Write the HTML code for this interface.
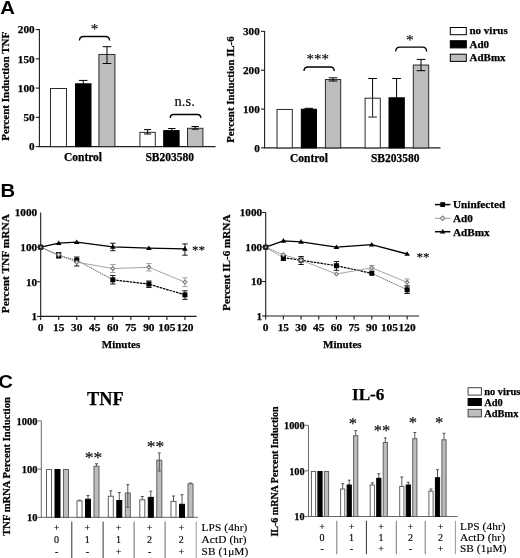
<!DOCTYPE html>
<html><head><meta charset="utf-8"><title>Figure</title>
<style>
html,body{margin:0;padding:0;background:#fff;}
svg{display:block;}
</style></head><body>
<svg width="520" height="558" viewBox="0 0 520 558">
<rect x="0" y="0" width="520" height="558" fill="#fff"/>
<text transform="translate(0.3,13.9) scale(1.08,1)" font-family='"Liberation Sans", sans-serif' font-size="18.8" font-weight="bold" fill="#000">A</text>
<text transform="translate(0.4,197.2) scale(1.08,1)" font-family='"Liberation Sans", sans-serif' font-size="18.8" font-weight="bold" fill="#000">B</text>
<text transform="translate(-1.8,387.7) scale(1.08,1)" font-family='"Liberation Sans", sans-serif' font-size="18.8" font-weight="bold" fill="#000">C</text>
<line x1="39.4" y1="29" x2="39.4" y2="146.6" stroke="#1c1c1c" stroke-width="1.1" />
<line x1="38.8" y1="146.6" x2="215.5" y2="146.6" stroke="#1c1c1c" stroke-width="1.1" />
<line x1="35.8" y1="146.6" x2="39.4" y2="146.6" stroke="#1c1c1c" stroke-width="1.1" />
<text x="34.6" y="150.4" font-family='"Liberation Serif", serif' font-size="11.2" font-weight="bold" text-anchor="end" fill="#000" stroke="#000" stroke-width="0.25" >0</text>
<line x1="35.8" y1="117.35" x2="39.4" y2="117.35" stroke="#1c1c1c" stroke-width="1.1" />
<text x="34.6" y="121.14999999999999" font-family='"Liberation Serif", serif' font-size="11.2" font-weight="bold" text-anchor="end" fill="#000" stroke="#000" stroke-width="0.25" >50</text>
<line x1="35.8" y1="88.1" x2="39.4" y2="88.1" stroke="#1c1c1c" stroke-width="1.1" />
<text x="34.6" y="91.89999999999999" font-family='"Liberation Serif", serif' font-size="11.2" font-weight="bold" text-anchor="end" fill="#000" stroke="#000" stroke-width="0.25" >100</text>
<line x1="35.8" y1="58.849999999999994" x2="39.4" y2="58.849999999999994" stroke="#1c1c1c" stroke-width="1.1" />
<text x="34.6" y="62.64999999999999" font-family='"Liberation Serif", serif' font-size="11.2" font-weight="bold" text-anchor="end" fill="#000" stroke="#000" stroke-width="0.25" >150</text>
<line x1="35.8" y1="29.599999999999994" x2="39.4" y2="29.599999999999994" stroke="#1c1c1c" stroke-width="1.1" />
<text x="34.6" y="33.39999999999999" font-family='"Liberation Serif", serif' font-size="11.2" font-weight="bold" text-anchor="end" fill="#000" stroke="#000" stroke-width="0.25" >200</text>
<text transform="translate(8.5,86.3) rotate(-90)" font-family='"Liberation Serif", serif' font-size="11.0" font-weight="bold" text-anchor="middle" fill="#000" stroke="#000" stroke-width="0.25">Percent Induction TNF</text>
<line x1="83.2" y1="80.41" x2="83.2" y2="86.93" stroke="#000" stroke-width="1" />
<line x1="78.9" y1="80.41" x2="87.5" y2="80.41" stroke="#000" stroke-width="1" />
<line x1="78.9" y1="86.93" x2="87.5" y2="86.93" stroke="#000" stroke-width="1" />
<rect x="50.50" y="88.50" width="16.00" height="58.10" fill="#fff" stroke="#2a2a2a" stroke-width="1"/>
<rect x="75.50" y="83.82" width="15.50" height="62.78" fill="#000" stroke="#000" stroke-width="1"/>
<rect x="98.90" y="54.45" width="16.00" height="92.15" fill="#bdbdbd" stroke="#2a2a2a" stroke-width="1"/>
<line x1="107" y1="46.7" x2="107" y2="63.5" stroke="#000" stroke-width="1" />
<line x1="102.7" y1="46.7" x2="111.3" y2="46.7" stroke="#000" stroke-width="1" />
<line x1="102.7" y1="63.5" x2="111.3" y2="63.5" stroke="#000" stroke-width="1" />
<rect x="139.90" y="132.38" width="15.40" height="14.22" fill="#fff" stroke="#2a2a2a" stroke-width="1"/>
<rect x="163.70" y="130.62" width="15.40" height="15.98" fill="#000" stroke="#000" stroke-width="1"/>
<rect x="187.50" y="128.28" width="15.40" height="18.32" fill="#bdbdbd" stroke="#2a2a2a" stroke-width="1"/>
<line x1="147.6" y1="129.6" x2="147.6" y2="134" stroke="#000" stroke-width="1" />
<line x1="144.0" y1="129.6" x2="151.2" y2="129.6" stroke="#000" stroke-width="1" />
<line x1="144.0" y1="134" x2="151.2" y2="134" stroke="#000" stroke-width="1" />
<line x1="171.8" y1="128.5" x2="171.8" y2="131" stroke="#000" stroke-width="1" />
<line x1="168.10000000000002" y1="128.5" x2="175.5" y2="128.5" stroke="#000" stroke-width="1" />
<line x1="195.2" y1="126.5" x2="195.2" y2="129.2" stroke="#000" stroke-width="1" />
<line x1="191.6" y1="126.5" x2="198.79999999999998" y2="126.5" stroke="#000" stroke-width="1" />
<line x1="191.6" y1="129.2" x2="198.79999999999998" y2="129.2" stroke="#000" stroke-width="1" />
<text x="83" y="161" font-family='"Liberation Serif", serif' font-size="11.5" font-weight="bold" text-anchor="middle" fill="#000" stroke="#000" stroke-width="0.25" >Control</text>
<text x="169.7" y="161" font-family='"Liberation Serif", serif' font-size="11.5" font-weight="bold" text-anchor="middle" fill="#000" stroke="#000" stroke-width="0.25" >SB203580</text>
<path d="M79.5,40.5 Q79.5,36.5 83.5,36.5 L105.5,36.5 Q109.5,36.5 109.5,40.5" fill="none" stroke="#000" stroke-width="1.3"/>
<text x="94.5" y="34.2" font-family='"Liberation Serif", serif' font-size="15.5" font-weight="normal" text-anchor="middle" fill="#000" stroke="#000" stroke-width="0.15" >*</text>
<path d="M170.2,118 Q170.2,114.5 173.7,114.5 L197.3,114.5 Q200.8,114.5 200.8,118" fill="none" stroke="#000" stroke-width="1.3"/>
<text x="184.7" y="106.3" font-family='"Liberation Serif", serif' font-size="14.5" font-weight="normal" text-anchor="middle" fill="#000" stroke="#000" stroke-width="0.15" >n.s.</text>
<line x1="264.6" y1="31" x2="264.6" y2="147.9" stroke="#1c1c1c" stroke-width="1.1" />
<line x1="264.0" y1="147.9" x2="440.5" y2="147.9" stroke="#1c1c1c" stroke-width="1.1" />
<line x1="261.0" y1="147.9" x2="264.6" y2="147.9" stroke="#1c1c1c" stroke-width="1.1" />
<text x="259.8" y="151.70000000000002" font-family='"Liberation Serif", serif' font-size="11.2" font-weight="bold" text-anchor="end" fill="#000" stroke="#000" stroke-width="0.25" >0</text>
<line x1="261.0" y1="109.05000000000001" x2="264.6" y2="109.05000000000001" stroke="#1c1c1c" stroke-width="1.1" />
<text x="259.8" y="112.85000000000001" font-family='"Liberation Serif", serif' font-size="11.2" font-weight="bold" text-anchor="end" fill="#000" stroke="#000" stroke-width="0.25" >100</text>
<line x1="261.0" y1="70.2" x2="264.6" y2="70.2" stroke="#1c1c1c" stroke-width="1.1" />
<text x="259.8" y="74.0" font-family='"Liberation Serif", serif' font-size="11.2" font-weight="bold" text-anchor="end" fill="#000" stroke="#000" stroke-width="0.25" >200</text>
<line x1="261.0" y1="31.35000000000001" x2="264.6" y2="31.35000000000001" stroke="#1c1c1c" stroke-width="1.1" />
<text x="259.8" y="35.150000000000006" font-family='"Liberation Serif", serif' font-size="11.2" font-weight="bold" text-anchor="end" fill="#000" stroke="#000" stroke-width="0.25" >300</text>
<text transform="translate(233.7,89.6) rotate(-90)" font-family='"Liberation Serif", serif' font-size="10.85" font-weight="bold" text-anchor="middle" fill="#000" stroke="#000" stroke-width="0.25">Percent Induction IL-6</text>
<rect x="277.00" y="109.45" width="15.30" height="38.45" fill="#fff" stroke="#2a2a2a" stroke-width="1"/>
<line x1="308.8" y1="108.3" x2="308.8" y2="109.3" stroke="#000" stroke-width="1" />
<line x1="304.5" y1="108.3" x2="313.1" y2="108.3" stroke="#000" stroke-width="1" />
<line x1="304.5" y1="109.3" x2="313.1" y2="109.3" stroke="#000" stroke-width="1" />
<rect x="301.30" y="109.26" width="15.20" height="38.64" fill="#000" stroke="#000" stroke-width="1"/>
<rect x="325.40" y="79.54" width="15.30" height="68.36" fill="#bdbdbd" stroke="#2a2a2a" stroke-width="1"/>
<line x1="333" y1="77.8" x2="333" y2="81" stroke="#000" stroke-width="1" />
<line x1="328.7" y1="77.8" x2="337.3" y2="77.8" stroke="#000" stroke-width="1" />
<line x1="328.7" y1="81" x2="337.3" y2="81" stroke="#000" stroke-width="1" />
<line x1="372.6" y1="78.5" x2="372.6" y2="117.1" stroke="#000" stroke-width="1" />
<line x1="368.3" y1="78.5" x2="376.90000000000003" y2="78.5" stroke="#000" stroke-width="1" />
<line x1="368.3" y1="117.1" x2="376.90000000000003" y2="117.1" stroke="#000" stroke-width="1" />
<line x1="396.6" y1="78.5" x2="396.6" y2="100" stroke="#000" stroke-width="1" />
<line x1="392.3" y1="78.5" x2="400.90000000000003" y2="78.5" stroke="#000" stroke-width="1" />
<rect x="365.10" y="98.18" width="15.20" height="49.72" fill="#fff" stroke="#2a2a2a" stroke-width="1"/>
<line x1="372.6" y1="98" x2="372.6" y2="117.1" stroke="#1c1c1c" stroke-width="1" />
<line x1="368.3" y1="117.1" x2="376.9" y2="117.1" stroke="#1c1c1c" stroke-width="1" />
<rect x="389.00" y="97.80" width="15.30" height="50.10" fill="#000" stroke="#000" stroke-width="1"/>
<rect x="413.30" y="65.04" width="15.40" height="82.86" fill="#bdbdbd" stroke="#2a2a2a" stroke-width="1"/>
<line x1="421" y1="59.4" x2="421" y2="70.7" stroke="#000" stroke-width="1" />
<line x1="416.7" y1="59.4" x2="425.3" y2="59.4" stroke="#000" stroke-width="1" />
<line x1="416.7" y1="70.7" x2="425.3" y2="70.7" stroke="#000" stroke-width="1" />
<text x="309" y="162.3" font-family='"Liberation Serif", serif' font-size="11.5" font-weight="bold" text-anchor="middle" fill="#000" stroke="#000" stroke-width="0.25" >Control</text>
<text x="395.2" y="162.3" font-family='"Liberation Serif", serif' font-size="11.5" font-weight="bold" text-anchor="middle" fill="#000" stroke="#000" stroke-width="0.25" >SB203580</text>
<path d="M304,71 Q304,67 308,67 L330.2,67 Q334.2,67 334.2,71" fill="none" stroke="#000" stroke-width="1.3"/>
<text x="317.8" y="64.2" font-family='"Liberation Serif", serif' font-size="15" font-weight="normal" text-anchor="middle" fill="#000" stroke="#000" stroke-width="0.15" >***</text>
<path d="M395.7,51.4 Q395.7,47.2 399.9,47.2 L422.40000000000003,47.2 Q426.6,47.2 426.6,51.4" fill="none" stroke="#000" stroke-width="1.3"/>
<text x="409.8" y="44.9" font-family='"Liberation Serif", serif' font-size="15.5" font-weight="normal" text-anchor="middle" fill="#000" stroke="#000" stroke-width="0.15" >*</text>
<rect x="450.30" y="27.50" width="16.00" height="7.20" fill="#fff" stroke="#000" stroke-width="1"/>
<rect x="450.30" y="40.70" width="16.00" height="7.20" fill="#000" stroke="#000" stroke-width="1"/>
<rect x="450.30" y="54.20" width="16.00" height="7.20" fill="#bdbdbd" stroke="#000" stroke-width="1"/>
<text x="469.5" y="34.2" font-family='"Liberation Serif", serif' font-size="11" font-weight="bold" text-anchor="start" fill="#000" stroke="#000" stroke-width="0.25" >no virus</text>
<text x="469.5" y="47.7" font-family='"Liberation Serif", serif' font-size="11" font-weight="bold" text-anchor="start" fill="#000" stroke="#000" stroke-width="0.25" >Ad0</text>
<text x="469.5" y="61.4" font-family='"Liberation Serif", serif' font-size="11" font-weight="bold" text-anchor="start" fill="#000" stroke="#000" stroke-width="0.25" >AdBmx</text>
<line x1="40.7" y1="212.5" x2="40.7" y2="316.4" stroke="#1c1c1c" stroke-width="1.1" />
<line x1="40.1" y1="316.4" x2="196.6" y2="316.4" stroke="#1c1c1c" stroke-width="1.1" />
<line x1="37.1" y1="316.4" x2="40.7" y2="316.4" stroke="#1c1c1c" stroke-width="1.1" />
<text x="37.1" y="320.29999999999995" font-family='"Liberation Serif", serif' font-size="11.2" font-weight="bold" text-anchor="end" fill="#000" stroke="#000" stroke-width="0.25" >1</text>
<line x1="37.1" y1="281.76666666666665" x2="40.7" y2="281.76666666666665" stroke="#1c1c1c" stroke-width="1.1" />
<text x="37.1" y="285.66666666666663" font-family='"Liberation Serif", serif' font-size="11.2" font-weight="bold" text-anchor="end" fill="#000" stroke="#000" stroke-width="0.25" >10</text>
<line x1="37.1" y1="247.13333333333333" x2="40.7" y2="247.13333333333333" stroke="#1c1c1c" stroke-width="1.1" />
<text x="37.1" y="251.03333333333333" font-family='"Liberation Serif", serif' font-size="11.2" font-weight="bold" text-anchor="end" fill="#000" stroke="#000" stroke-width="0.25" >100</text>
<text x="37.1" y="216.4" font-family='"Liberation Serif", serif' font-size="11.2" font-weight="bold" text-anchor="end" fill="#000" stroke="#000" stroke-width="0.25" >1000</text>
<line x1="40.7" y1="316.4" x2="40.7" y2="320.0" stroke="#1c1c1c" stroke-width="1.1" />
<text x="40.7" y="331.0" font-family='"Liberation Serif", serif' font-size="11.4" font-weight="bold" text-anchor="middle" fill="#000" stroke="#000" stroke-width="0.25" >0</text>
<line x1="58.730000000000004" y1="316.4" x2="58.730000000000004" y2="320.0" stroke="#1c1c1c" stroke-width="1.1" />
<text x="58.730000000000004" y="331.0" font-family='"Liberation Serif", serif' font-size="11.4" font-weight="bold" text-anchor="middle" fill="#000" stroke="#000" stroke-width="0.25" >15</text>
<line x1="76.76" y1="316.4" x2="76.76" y2="320.0" stroke="#1c1c1c" stroke-width="1.1" />
<text x="76.76" y="331.0" font-family='"Liberation Serif", serif' font-size="11.4" font-weight="bold" text-anchor="middle" fill="#000" stroke="#000" stroke-width="0.25" >30</text>
<line x1="94.79" y1="316.4" x2="94.79" y2="320.0" stroke="#1c1c1c" stroke-width="1.1" />
<text x="94.79" y="331.0" font-family='"Liberation Serif", serif' font-size="11.4" font-weight="bold" text-anchor="middle" fill="#000" stroke="#000" stroke-width="0.25" >45</text>
<line x1="112.82000000000001" y1="316.4" x2="112.82000000000001" y2="320.0" stroke="#1c1c1c" stroke-width="1.1" />
<text x="112.82000000000001" y="331.0" font-family='"Liberation Serif", serif' font-size="11.4" font-weight="bold" text-anchor="middle" fill="#000" stroke="#000" stroke-width="0.25" >60</text>
<line x1="130.85000000000002" y1="316.4" x2="130.85000000000002" y2="320.0" stroke="#1c1c1c" stroke-width="1.1" />
<text x="130.85000000000002" y="331.0" font-family='"Liberation Serif", serif' font-size="11.4" font-weight="bold" text-anchor="middle" fill="#000" stroke="#000" stroke-width="0.25" >75</text>
<line x1="148.88" y1="316.4" x2="148.88" y2="320.0" stroke="#1c1c1c" stroke-width="1.1" />
<text x="148.88" y="331.0" font-family='"Liberation Serif", serif' font-size="11.4" font-weight="bold" text-anchor="middle" fill="#000" stroke="#000" stroke-width="0.25" >90</text>
<line x1="166.91000000000003" y1="316.4" x2="166.91000000000003" y2="320.0" stroke="#1c1c1c" stroke-width="1.1" />
<text x="166.91000000000003" y="331.0" font-family='"Liberation Serif", serif' font-size="11.4" font-weight="bold" text-anchor="middle" fill="#000" stroke="#000" stroke-width="0.25" >105</text>
<line x1="184.94" y1="316.4" x2="184.94" y2="320.0" stroke="#1c1c1c" stroke-width="1.1" />
<text x="184.94" y="331.0" font-family='"Liberation Serif", serif' font-size="11.4" font-weight="bold" text-anchor="middle" fill="#000" stroke="#000" stroke-width="0.25" >120</text>
<text x="121" y="348.3" font-family='"Liberation Serif", serif' font-size="11" font-weight="bold" text-anchor="middle" fill="#000" stroke="#000" stroke-width="0.25" >Minutes</text>
<text transform="translate(9.3,263.7) rotate(-90)" font-family='"Liberation Serif", serif' font-size="11.4" font-weight="bold" text-anchor="middle" fill="#000" stroke="#000" stroke-width="0.25">Percent TNF mRNA</text>
<line x1="58.730000000000004" y1="252.5" x2="58.730000000000004" y2="258" stroke="#000" stroke-width="0.9" />
<line x1="56.03" y1="252.5" x2="61.43000000000001" y2="252.5" stroke="#000" stroke-width="0.9" />
<line x1="56.03" y1="258" x2="61.43000000000001" y2="258" stroke="#000" stroke-width="0.9" />
<line x1="76.76" y1="257" x2="76.76" y2="266" stroke="#000" stroke-width="0.9" />
<line x1="74.06" y1="257" x2="79.46000000000001" y2="257" stroke="#000" stroke-width="0.9" />
<line x1="74.06" y1="266" x2="79.46000000000001" y2="266" stroke="#000" stroke-width="0.9" />
<line x1="112.82000000000001" y1="243.2" x2="112.82000000000001" y2="250.7" stroke="#000" stroke-width="0.9" />
<line x1="110.12" y1="243.2" x2="115.52000000000001" y2="243.2" stroke="#000" stroke-width="0.9" />
<line x1="110.12" y1="250.7" x2="115.52000000000001" y2="250.7" stroke="#000" stroke-width="0.9" />
<line x1="112.82000000000001" y1="264.5" x2="112.82000000000001" y2="272.5" stroke="#999" stroke-width="0.9" />
<line x1="110.12" y1="264.5" x2="115.52000000000001" y2="264.5" stroke="#999" stroke-width="0.9" />
<line x1="110.12" y1="272.5" x2="115.52000000000001" y2="272.5" stroke="#999" stroke-width="0.9" />
<line x1="112.82000000000001" y1="275.5" x2="112.82000000000001" y2="284" stroke="#000" stroke-width="0.9" />
<line x1="110.12" y1="275.5" x2="115.52000000000001" y2="275.5" stroke="#000" stroke-width="0.9" />
<line x1="110.12" y1="284" x2="115.52000000000001" y2="284" stroke="#000" stroke-width="0.9" />
<line x1="148.88" y1="263.5" x2="148.88" y2="271" stroke="#999" stroke-width="0.9" />
<line x1="146.18" y1="263.5" x2="151.57999999999998" y2="263.5" stroke="#999" stroke-width="0.9" />
<line x1="146.18" y1="271" x2="151.57999999999998" y2="271" stroke="#999" stroke-width="0.9" />
<line x1="148.88" y1="281" x2="148.88" y2="287.5" stroke="#000" stroke-width="0.9" />
<line x1="146.18" y1="281" x2="151.57999999999998" y2="281" stroke="#000" stroke-width="0.9" />
<line x1="146.18" y1="287.5" x2="151.57999999999998" y2="287.5" stroke="#000" stroke-width="0.9" />
<line x1="184.94" y1="243.9" x2="184.94" y2="255.2" stroke="#000" stroke-width="0.9" />
<line x1="182.24" y1="243.9" x2="187.64" y2="243.9" stroke="#000" stroke-width="0.9" />
<line x1="182.24" y1="255.2" x2="187.64" y2="255.2" stroke="#000" stroke-width="0.9" />
<line x1="184.94" y1="277.8" x2="184.94" y2="286.6" stroke="#999" stroke-width="0.9" />
<line x1="182.24" y1="277.8" x2="187.64" y2="277.8" stroke="#999" stroke-width="0.9" />
<line x1="182.24" y1="286.6" x2="187.64" y2="286.6" stroke="#999" stroke-width="0.9" />
<line x1="184.94" y1="290.8" x2="184.94" y2="299.4" stroke="#000" stroke-width="0.9" />
<line x1="182.24" y1="290.8" x2="187.64" y2="290.8" stroke="#000" stroke-width="0.9" />
<line x1="182.24" y1="299.4" x2="187.64" y2="299.4" stroke="#000" stroke-width="0.9" />
<polyline points="40.7,247.2 58.7,255.7 76.8,260.2 112.8,279.8" fill="none" stroke="#222" stroke-width="0.85" stroke-dasharray="1.2,0.9"/>
<polyline points="112.8,279.8 148.9,284.1 184.9,294.9" fill="none" stroke="#000" stroke-width="1.25" stroke-dasharray="2.6,0.8"/>
<polyline points="40.7,247.2 58.7,254.7 76.8,262.2 112.8,268.5 148.9,267.3 184.9,282.1" fill="none" stroke="#9a9a9a" stroke-width="0.9"/>
<polyline points="40.7,247.2 58.7,243.2 76.8,242.2 112.8,246.9 148.9,248.2 184.9,248.9" fill="none" stroke="#000" stroke-width="1.3"/>
<rect x="38.2" y="244.7" width="5.0" height="5.0" fill="#000"/>
<rect x="56.230000000000004" y="253.2" width="5.0" height="5.0" fill="#000"/>
<rect x="74.26" y="257.7" width="5.0" height="5.0" fill="#000"/>
<rect x="110.32000000000001" y="277.3" width="5.0" height="5.0" fill="#000"/>
<rect x="146.38" y="281.6" width="5.0" height="5.0" fill="#000"/>
<rect x="182.44" y="292.4" width="5.0" height="5.0" fill="#000"/>
<polygon points="40.7,244.39999999999998 37.900000000000006,249.01999999999998 43.5,249.01999999999998" fill="#000"/>
<polygon points="58.730000000000004,240.39999999999998 55.93000000000001,245.01999999999998 61.53,245.01999999999998" fill="#000"/>
<polygon points="76.76,239.39999999999998 73.96000000000001,244.01999999999998 79.56,244.01999999999998" fill="#000"/>
<polygon points="112.82000000000001,244.1 110.02000000000001,248.72 115.62,248.72" fill="#000"/>
<polygon points="148.88,245.39999999999998 146.07999999999998,250.01999999999998 151.68,250.01999999999998" fill="#000"/>
<polygon points="184.94,246.1 182.14,250.72 187.74,250.72" fill="#000"/>
<circle cx="40.7" cy="247.2" r="2.6" fill="#222"/><circle cx="40.7" cy="247.2" r="1.0" fill="#aaa"/>
<polygon points="58.730000000000004,252.79999999999998 60.63,254.7 58.730000000000004,256.59999999999997 56.830000000000005,254.7" fill="#fff" stroke="#7c7c7c" stroke-width="1.1"/>
<polygon points="76.76,260.3 78.66000000000001,262.2 76.76,264.09999999999997 74.86,262.2" fill="#fff" stroke="#7c7c7c" stroke-width="1.1"/>
<polygon points="112.82000000000001,266.6 114.72000000000001,268.5 112.82000000000001,270.4 110.92,268.5" fill="#fff" stroke="#7c7c7c" stroke-width="1.1"/>
<polygon points="148.88,265.40000000000003 150.78,267.3 148.88,269.2 146.98,267.3" fill="#fff" stroke="#7c7c7c" stroke-width="1.1"/>
<polygon points="184.94,280.20000000000005 186.84,282.1 184.94,284.0 183.04,282.1" fill="#fff" stroke="#7c7c7c" stroke-width="1.1"/>
<text x="198.5" y="253.6" font-family='"Liberation Serif", serif' font-size="13" font-weight="normal" text-anchor="middle" fill="#000" stroke="#000" stroke-width="0.15" >**</text>
<line x1="265.7" y1="212.5" x2="265.7" y2="316" stroke="#1c1c1c" stroke-width="1.1" />
<line x1="265.09999999999997" y1="316" x2="419.1" y2="316" stroke="#1c1c1c" stroke-width="1.1" />
<line x1="262.09999999999997" y1="316.0" x2="265.7" y2="316.0" stroke="#1c1c1c" stroke-width="1.1" />
<text x="262.09999999999997" y="319.9" font-family='"Liberation Serif", serif' font-size="11.2" font-weight="bold" text-anchor="end" fill="#000" stroke="#000" stroke-width="0.25" >1</text>
<line x1="262.09999999999997" y1="281.5" x2="265.7" y2="281.5" stroke="#1c1c1c" stroke-width="1.1" />
<text x="262.09999999999997" y="285.4" font-family='"Liberation Serif", serif' font-size="11.2" font-weight="bold" text-anchor="end" fill="#000" stroke="#000" stroke-width="0.25" >10</text>
<line x1="262.09999999999997" y1="247.0" x2="265.7" y2="247.0" stroke="#1c1c1c" stroke-width="1.1" />
<text x="262.09999999999997" y="250.9" font-family='"Liberation Serif", serif' font-size="11.2" font-weight="bold" text-anchor="end" fill="#000" stroke="#000" stroke-width="0.25" >100</text>
<line x1="262.09999999999997" y1="212.5" x2="265.7" y2="212.5" stroke="#1c1c1c" stroke-width="1.1" />
<text x="262.09999999999997" y="216.4" font-family='"Liberation Serif", serif' font-size="11.2" font-weight="bold" text-anchor="end" fill="#000" stroke="#000" stroke-width="0.25" >1000</text>
<line x1="265.7" y1="316" x2="265.7" y2="319.6" stroke="#1c1c1c" stroke-width="1.1" />
<text x="265.7" y="331.4" font-family='"Liberation Serif", serif' font-size="11.4" font-weight="bold" text-anchor="middle" fill="#000" stroke="#000" stroke-width="0.25" >0</text>
<line x1="283.38" y1="316" x2="283.38" y2="319.6" stroke="#1c1c1c" stroke-width="1.1" />
<text x="283.38" y="331.4" font-family='"Liberation Serif", serif' font-size="11.4" font-weight="bold" text-anchor="middle" fill="#000" stroke="#000" stroke-width="0.25" >15</text>
<line x1="301.06" y1="316" x2="301.06" y2="319.6" stroke="#1c1c1c" stroke-width="1.1" />
<text x="301.06" y="331.4" font-family='"Liberation Serif", serif' font-size="11.4" font-weight="bold" text-anchor="middle" fill="#000" stroke="#000" stroke-width="0.25" >30</text>
<line x1="318.74" y1="316" x2="318.74" y2="319.6" stroke="#1c1c1c" stroke-width="1.1" />
<text x="318.74" y="331.4" font-family='"Liberation Serif", serif' font-size="11.4" font-weight="bold" text-anchor="middle" fill="#000" stroke="#000" stroke-width="0.25" >45</text>
<line x1="336.41999999999996" y1="316" x2="336.41999999999996" y2="319.6" stroke="#1c1c1c" stroke-width="1.1" />
<text x="336.41999999999996" y="331.4" font-family='"Liberation Serif", serif' font-size="11.4" font-weight="bold" text-anchor="middle" fill="#000" stroke="#000" stroke-width="0.25" >60</text>
<line x1="354.1" y1="316" x2="354.1" y2="319.6" stroke="#1c1c1c" stroke-width="1.1" />
<text x="354.1" y="331.4" font-family='"Liberation Serif", serif' font-size="11.4" font-weight="bold" text-anchor="middle" fill="#000" stroke="#000" stroke-width="0.25" >75</text>
<line x1="371.78" y1="316" x2="371.78" y2="319.6" stroke="#1c1c1c" stroke-width="1.1" />
<text x="371.78" y="331.4" font-family='"Liberation Serif", serif' font-size="11.4" font-weight="bold" text-anchor="middle" fill="#000" stroke="#000" stroke-width="0.25" >90</text>
<line x1="389.46" y1="316" x2="389.46" y2="319.6" stroke="#1c1c1c" stroke-width="1.1" />
<text x="389.46" y="331.4" font-family='"Liberation Serif", serif' font-size="11.4" font-weight="bold" text-anchor="middle" fill="#000" stroke="#000" stroke-width="0.25" >105</text>
<line x1="407.14" y1="316" x2="407.14" y2="319.6" stroke="#1c1c1c" stroke-width="1.1" />
<text x="407.14" y="331.4" font-family='"Liberation Serif", serif' font-size="11.4" font-weight="bold" text-anchor="middle" fill="#000" stroke="#000" stroke-width="0.25" >120</text>
<text x="342.3" y="347.5" font-family='"Liberation Serif", serif' font-size="11" font-weight="bold" text-anchor="middle" fill="#000" stroke="#000" stroke-width="0.25" >Minutes</text>
<text transform="translate(230.3,262.7) rotate(-90)" font-family='"Liberation Serif", serif' font-size="11.15" font-weight="bold" text-anchor="middle" fill="#000" stroke="#000" stroke-width="0.25">Percent IL-6 mRNA</text>
<line x1="283.38" y1="255" x2="283.38" y2="260.5" stroke="#000" stroke-width="0.9" />
<line x1="280.68" y1="255" x2="286.08" y2="255" stroke="#000" stroke-width="0.9" />
<line x1="280.68" y1="260.5" x2="286.08" y2="260.5" stroke="#000" stroke-width="0.9" />
<line x1="301.06" y1="256.5" x2="301.06" y2="264.5" stroke="#000" stroke-width="0.9" />
<line x1="298.36" y1="256.5" x2="303.76" y2="256.5" stroke="#000" stroke-width="0.9" />
<line x1="298.36" y1="264.5" x2="303.76" y2="264.5" stroke="#000" stroke-width="0.9" />
<line x1="336.41999999999996" y1="261.5" x2="336.41999999999996" y2="270.3" stroke="#000" stroke-width="0.9" />
<line x1="333.71999999999997" y1="261.5" x2="339.11999999999995" y2="261.5" stroke="#000" stroke-width="0.9" />
<line x1="333.71999999999997" y1="270.3" x2="339.11999999999995" y2="270.3" stroke="#000" stroke-width="0.9" />
<line x1="371.78" y1="265.5" x2="371.78" y2="270" stroke="#999" stroke-width="0.9" />
<line x1="369.08" y1="265.5" x2="374.47999999999996" y2="265.5" stroke="#999" stroke-width="0.9" />
<line x1="369.08" y1="270" x2="374.47999999999996" y2="270" stroke="#999" stroke-width="0.9" />
<line x1="407.14" y1="279" x2="407.14" y2="285.5" stroke="#999" stroke-width="0.9" />
<line x1="404.44" y1="279" x2="409.84" y2="279" stroke="#999" stroke-width="0.9" />
<line x1="404.44" y1="285.5" x2="409.84" y2="285.5" stroke="#999" stroke-width="0.9" />
<line x1="407.14" y1="286" x2="407.14" y2="293.5" stroke="#000" stroke-width="0.9" />
<line x1="404.44" y1="286" x2="409.84" y2="286" stroke="#000" stroke-width="0.9" />
<line x1="404.44" y1="293.5" x2="409.84" y2="293.5" stroke="#000" stroke-width="0.9" />
<polyline points="265.7,247.2 283.4,257.7" fill="none" stroke="#444" stroke-width="0.85" stroke-dasharray="1.2,0.9"/>
<polyline points="283.4,257.7 301.1,260.2 336.4,265.7 371.8,273.3" fill="none" stroke="#000" stroke-width="1.2" stroke-dasharray="2.6,0.8"/>
<polyline points="371.8,273.3 407.1,289.8" fill="none" stroke="#333" stroke-width="0.85" stroke-dasharray="1.2,0.9"/>
<polyline points="265.7,247.2 283.4,254.7 301.1,260.2 336.4,274.0 371.8,267.8 407.1,282.3" fill="none" stroke="#9a9a9a" stroke-width="0.9"/>
<polyline points="265.7,247.2 283.4,240.9 301.1,241.9 336.4,247.2 371.8,244.7 407.1,254.0" fill="none" stroke="#000" stroke-width="1.3"/>
<rect x="263.2" y="244.7" width="5.0" height="5.0" fill="#000"/>
<rect x="280.88" y="255.2" width="5.0" height="5.0" fill="#000"/>
<rect x="298.56" y="257.7" width="5.0" height="5.0" fill="#000"/>
<rect x="333.91999999999996" y="263.2" width="5.0" height="5.0" fill="#000"/>
<rect x="369.28" y="270.8" width="5.0" height="5.0" fill="#000"/>
<rect x="404.64" y="287.3" width="5.0" height="5.0" fill="#000"/>
<polygon points="265.7,244.39999999999998 262.9,249.01999999999998 268.5,249.01999999999998" fill="#000"/>
<polygon points="283.38,238.1 280.58,242.72 286.18,242.72" fill="#000"/>
<polygon points="301.06,239.1 298.26,243.72 303.86,243.72" fill="#000"/>
<polygon points="336.41999999999996,244.39999999999998 333.61999999999995,249.01999999999998 339.21999999999997,249.01999999999998" fill="#000"/>
<polygon points="371.78,241.89999999999998 368.97999999999996,246.51999999999998 374.58,246.51999999999998" fill="#000"/>
<polygon points="407.14,251.2 404.34,255.82 409.94,255.82" fill="#000"/>
<circle cx="265.7" cy="247.2" r="2.6" fill="#222"/><circle cx="265.7" cy="247.2" r="1.0" fill="#aaa"/>
<polygon points="283.38,252.79999999999998 285.28,254.7 283.38,256.59999999999997 281.48,254.7" fill="#fff" stroke="#7c7c7c" stroke-width="1.1"/>
<polygon points="301.06,258.3 302.96,260.2 301.06,262.09999999999997 299.16,260.2" fill="#fff" stroke="#7c7c7c" stroke-width="1.1"/>
<polygon points="336.41999999999996,272.1 338.31999999999994,274 336.41999999999996,275.9 334.52,274" fill="#fff" stroke="#7c7c7c" stroke-width="1.1"/>
<polygon points="371.78,265.90000000000003 373.67999999999995,267.8 371.78,269.7 369.88,267.8" fill="#fff" stroke="#7c7c7c" stroke-width="1.1"/>
<polygon points="407.14,280.40000000000003 409.03999999999996,282.3 407.14,284.2 405.24,282.3" fill="#fff" stroke="#7c7c7c" stroke-width="1.1"/>
<text x="423" y="260.5" font-family='"Liberation Serif", serif' font-size="13" font-weight="normal" text-anchor="middle" fill="#000" stroke="#000" stroke-width="0.15" >**</text>
<line x1="435" y1="204.6" x2="450.4" y2="204.6" stroke="#000" stroke-width="1.5" />
<rect x="440.3" y="202.2" width="4.8" height="4.8" fill="#000"/>
<text x="453" y="208.4" font-family='"Liberation Serif", serif' font-size="11.2" font-weight="bold" text-anchor="start" fill="#000" stroke="#000" stroke-width="0.25" >Uninfected</text>
<line x1="435" y1="218.3" x2="450.4" y2="218.3" stroke="#9a9a9a" stroke-width="1" />
<polygon points="442.7,216.10000000000002 444.9,218.3 442.7,220.5 440.5,218.3" fill="#fff" stroke="#7c7c7c" stroke-width="1.1"/>
<text x="453" y="222.10000000000002" font-family='"Liberation Serif", serif' font-size="11.2" font-weight="bold" text-anchor="start" fill="#000" stroke="#000" stroke-width="0.25" >Ad0</text>
<line x1="435" y1="231.7" x2="450.4" y2="231.7" stroke="#000" stroke-width="1.5" />
<polygon points="442.7,228.89999999999998 439.9,233.51999999999998 445.5,233.51999999999998" fill="#000"/>
<text x="453" y="235.5" font-family='"Liberation Serif", serif' font-size="11.2" font-weight="bold" text-anchor="start" fill="#000" stroke="#000" stroke-width="0.25" >AdBmx</text>
<line x1="41.3" y1="420.9" x2="41.3" y2="517.3" stroke="#6a6a6a" stroke-width="1" />
<line x1="40.8" y1="517.3" x2="198" y2="517.3" stroke="#6a6a6a" stroke-width="1" />
<line x1="37.8" y1="517.3" x2="41.3" y2="517.3" stroke="#6a6a6a" stroke-width="1" />
<text x="37.4" y="520.9" font-family='"Liberation Serif", serif' font-size="10.5" font-weight="bold" text-anchor="end" fill="#000" stroke="#000" stroke-width="0.25" >10</text>
<line x1="37.8" y1="469.09999999999997" x2="41.3" y2="469.09999999999997" stroke="#6a6a6a" stroke-width="1" />
<text x="37.4" y="472.7" font-family='"Liberation Serif", serif' font-size="10.5" font-weight="bold" text-anchor="end" fill="#000" stroke="#000" stroke-width="0.25" >100</text>
<line x1="37.8" y1="420.9" x2="41.3" y2="420.9" stroke="#6a6a6a" stroke-width="1" />
<text x="37.4" y="424.5" font-family='"Liberation Serif", serif' font-size="10.5" font-weight="bold" text-anchor="end" fill="#000" stroke="#000" stroke-width="0.25" >1000</text>
<text transform="translate(10.3,466.4) rotate(-90)" font-family='"Liberation Serif", serif' font-size="10.6" font-weight="bold" text-anchor="middle" fill="#000" stroke="#000" stroke-width="0.25">TNF mRNA Percent Induction</text>
<text x="105.4" y="404.6" font-family='"Liberation Serif", serif' font-size="18.3" font-weight="bold" text-anchor="middle" fill="#000" stroke="#000" stroke-width="0.25" >TNF</text>
<rect x="46.50" y="469.50" width="5.00" height="47.80" fill="#fff" stroke="#606060" stroke-width="1"/>
<rect x="55.00" y="469.50" width="5.00" height="47.80" fill="#000" stroke="#000" stroke-width="1"/>
<rect x="63.50" y="469.50" width="5.00" height="47.80" fill="#bdbdbd" stroke="#606060" stroke-width="1"/>
<line x1="79.5" y1="500.2" x2="79.5" y2="500.9" stroke="#555" stroke-width="1" />
<line x1="78.0" y1="500.2" x2="81.0" y2="500.2" stroke="#555" stroke-width="1" />
<rect x="77.00" y="500.90" width="5.00" height="16.40" fill="#fff" stroke="#606060" stroke-width="1"/>
<line x1="88.0" y1="495.5" x2="88.0" y2="499.25" stroke="#555" stroke-width="1" />
<line x1="86.5" y1="495.5" x2="89.5" y2="495.5" stroke="#555" stroke-width="1" />
<rect x="85.50" y="499.25" width="5.00" height="18.05" fill="#000" stroke="#000" stroke-width="1"/>
<line x1="96.5" y1="463.75" x2="96.5" y2="466.25" stroke="#555" stroke-width="1" />
<line x1="95.0" y1="463.75" x2="98.0" y2="463.75" stroke="#555" stroke-width="1" />
<rect x="94.00" y="466.25" width="5.00" height="51.05" fill="#bdbdbd" stroke="#606060" stroke-width="1"/>
<line x1="110.8" y1="490.75" x2="110.8" y2="496.25" stroke="#555" stroke-width="1" />
<line x1="109.3" y1="490.75" x2="112.3" y2="490.75" stroke="#555" stroke-width="1" />
<rect x="108.30" y="496.25" width="5.00" height="21.05" fill="#fff" stroke="#606060" stroke-width="1"/>
<line x1="119.3" y1="492.5" x2="119.3" y2="500.5" stroke="#555" stroke-width="1" />
<line x1="117.8" y1="492.5" x2="120.8" y2="492.5" stroke="#555" stroke-width="1" />
<rect x="116.80" y="500.50" width="5.00" height="16.80" fill="#000" stroke="#000" stroke-width="1"/>
<line x1="127.8" y1="484.6" x2="127.8" y2="507.3" stroke="#555" stroke-width="1" />
<line x1="126.3" y1="484.6" x2="129.3" y2="484.6" stroke="#555" stroke-width="1" />
<rect x="125.30" y="493.00" width="5.00" height="24.30" fill="#bdbdbd" stroke="#606060" stroke-width="1"/>
<line x1="127.8" y1="493" x2="127.8" y2="507.3" stroke="#555" stroke-width="1" />
<line x1="126.3" y1="507.3" x2="129.3" y2="507.3" stroke="#555" stroke-width="1" />
<line x1="142.3" y1="496.5" x2="142.3" y2="499.8" stroke="#555" stroke-width="1" />
<line x1="140.8" y1="496.5" x2="143.8" y2="496.5" stroke="#555" stroke-width="1" />
<rect x="139.80" y="499.80" width="5.00" height="17.50" fill="#fff" stroke="#606060" stroke-width="1"/>
<line x1="150.8" y1="491.2" x2="150.8" y2="497.4" stroke="#555" stroke-width="1" />
<line x1="149.3" y1="491.2" x2="152.3" y2="491.2" stroke="#555" stroke-width="1" />
<rect x="148.30" y="497.40" width="5.00" height="19.90" fill="#000" stroke="#000" stroke-width="1"/>
<line x1="159.3" y1="452.9" x2="159.3" y2="471" stroke="#555" stroke-width="1" />
<line x1="157.8" y1="452.9" x2="160.8" y2="452.9" stroke="#555" stroke-width="1" />
<rect x="156.80" y="460.20" width="5.00" height="57.10" fill="#bdbdbd" stroke="#606060" stroke-width="1"/>
<line x1="159.3" y1="460.2" x2="159.3" y2="471" stroke="#555" stroke-width="1" />
<line x1="157.8" y1="471" x2="160.8" y2="471" stroke="#555" stroke-width="1" />
<line x1="173.5" y1="496" x2="173.5" y2="501.4" stroke="#555" stroke-width="1" />
<line x1="172.0" y1="496" x2="175.0" y2="496" stroke="#555" stroke-width="1" />
<rect x="171.00" y="501.40" width="5.00" height="15.90" fill="#fff" stroke="#606060" stroke-width="1"/>
<line x1="182.0" y1="494.7" x2="182.0" y2="504.3" stroke="#555" stroke-width="1" />
<line x1="180.5" y1="494.7" x2="183.5" y2="494.7" stroke="#555" stroke-width="1" />
<rect x="179.50" y="504.30" width="5.00" height="13.00" fill="#000" stroke="#000" stroke-width="1"/>
<line x1="190.5" y1="483.0" x2="190.5" y2="483.8" stroke="#555" stroke-width="1" />
<line x1="189.0" y1="483.0" x2="192.0" y2="483.0" stroke="#555" stroke-width="1" />
<rect x="188.00" y="483.80" width="5.00" height="33.50" fill="#bdbdbd" stroke="#606060" stroke-width="1"/>
<text x="93.4" y="463.2" font-family='"Liberation Serif", serif' font-size="17.5" font-weight="normal" text-anchor="middle" fill="#000" stroke="#000" stroke-width="0.15" >**</text>
<text x="155.5" y="452.2" font-family='"Liberation Serif", serif' font-size="17.5" font-weight="normal" text-anchor="middle" fill="#000" stroke="#000" stroke-width="0.15" >**</text>
<line x1="71.8" y1="521.5999999999999" x2="71.8" y2="558" stroke="#333" stroke-width="1" />
<line x1="103.1" y1="521.5999999999999" x2="103.1" y2="558" stroke="#333" stroke-width="1" />
<line x1="134.1" y1="521.5999999999999" x2="134.1" y2="558" stroke="#666" stroke-width="1" />
<line x1="165.1" y1="521.5999999999999" x2="165.1" y2="558" stroke="#666" stroke-width="1" />
<line x1="196.2" y1="521.5999999999999" x2="196.2" y2="558" stroke="#999" stroke-width="1" />
<text x="56.6" y="531.3" font-family='"Liberation Serif", serif' font-size="10" font-weight="normal" text-anchor="middle" fill="#000" stroke="#000" stroke-width="0.15" >+</text>
<text x="87.3" y="531.3" font-family='"Liberation Serif", serif' font-size="10" font-weight="normal" text-anchor="middle" fill="#000" stroke="#000" stroke-width="0.15" >+</text>
<text x="118.5" y="531.3" font-family='"Liberation Serif", serif' font-size="10" font-weight="normal" text-anchor="middle" fill="#000" stroke="#000" stroke-width="0.15" >+</text>
<text x="149.6" y="531.3" font-family='"Liberation Serif", serif' font-size="10" font-weight="normal" text-anchor="middle" fill="#000" stroke="#000" stroke-width="0.15" >+</text>
<text x="181.2" y="531.3" font-family='"Liberation Serif", serif' font-size="10" font-weight="normal" text-anchor="middle" fill="#000" stroke="#000" stroke-width="0.15" >+</text>
<text x="56.6" y="543.1" font-family='"Liberation Serif", serif' font-size="10" font-weight="normal" text-anchor="middle" fill="#000" stroke="#000" stroke-width="0.15" >0</text>
<text x="87.3" y="543.1" font-family='"Liberation Serif", serif' font-size="10" font-weight="normal" text-anchor="middle" fill="#000" stroke="#000" stroke-width="0.15" >1</text>
<text x="118.5" y="543.1" font-family='"Liberation Serif", serif' font-size="10" font-weight="normal" text-anchor="middle" fill="#000" stroke="#000" stroke-width="0.15" >1</text>
<text x="149.6" y="543.1" font-family='"Liberation Serif", serif' font-size="10" font-weight="normal" text-anchor="middle" fill="#000" stroke="#000" stroke-width="0.15" >2</text>
<text x="181.2" y="543.1" font-family='"Liberation Serif", serif' font-size="10" font-weight="normal" text-anchor="middle" fill="#000" stroke="#000" stroke-width="0.15" >2</text>
<text x="56.6" y="554.8" font-family='"Liberation Serif", serif' font-size="10" font-weight="normal" text-anchor="middle" fill="#000" stroke="#000" stroke-width="0.15" >-</text>
<text x="87.3" y="554.8" font-family='"Liberation Serif", serif' font-size="10" font-weight="normal" text-anchor="middle" fill="#000" stroke="#000" stroke-width="0.15" >-</text>
<text x="118.5" y="554.8" font-family='"Liberation Serif", serif' font-size="10" font-weight="normal" text-anchor="middle" fill="#000" stroke="#000" stroke-width="0.15" >+</text>
<text x="149.6" y="554.8" font-family='"Liberation Serif", serif' font-size="10" font-weight="normal" text-anchor="middle" fill="#000" stroke="#000" stroke-width="0.15" >-</text>
<text x="181.2" y="554.8" font-family='"Liberation Serif", serif' font-size="10" font-weight="normal" text-anchor="middle" fill="#000" stroke="#000" stroke-width="0.15" >+</text>
<text x="201.6" y="531.3" font-family='"Liberation Serif", serif' font-size="11.3" font-weight="normal" text-anchor="start" fill="#000" stroke="#000" stroke-width="0.15" letter-spacing="0.1">LPS (4hr)</text>
<text x="201.6" y="543.1" font-family='"Liberation Serif", serif' font-size="11.3" font-weight="normal" text-anchor="start" fill="#000" stroke="#000" stroke-width="0.15" letter-spacing="0.1">ActD (hr)</text>
<text x="201.6" y="554.8" font-family='"Liberation Serif", serif' font-size="11.3" font-weight="normal" text-anchor="start" fill="#000" stroke="#000" stroke-width="0.15" letter-spacing="0.1">SB (1μM)</text>
<line x1="308.5" y1="425.3" x2="308.5" y2="516.5" stroke="#6a6a6a" stroke-width="1" />
<line x1="308.0" y1="516.5" x2="457.5" y2="516.5" stroke="#6a6a6a" stroke-width="1" />
<line x1="305.0" y1="516.5" x2="308.5" y2="516.5" stroke="#6a6a6a" stroke-width="1" />
<text x="304.6" y="520.1" font-family='"Liberation Serif", serif' font-size="10.3" font-weight="bold" text-anchor="end" fill="#000" stroke="#000" stroke-width="0.25" >10</text>
<line x1="305.0" y1="470.9" x2="308.5" y2="470.9" stroke="#6a6a6a" stroke-width="1" />
<text x="304.6" y="474.5" font-family='"Liberation Serif", serif' font-size="10.3" font-weight="bold" text-anchor="end" fill="#000" stroke="#000" stroke-width="0.25" >100</text>
<line x1="305.0" y1="425.3" x2="308.5" y2="425.3" stroke="#6a6a6a" stroke-width="1" />
<text x="304.6" y="428.90000000000003" font-family='"Liberation Serif", serif' font-size="10.3" font-weight="bold" text-anchor="end" fill="#000" stroke="#000" stroke-width="0.25" >1000</text>
<text transform="translate(277.7,471.5) rotate(-90)" font-family='"Liberation Serif", serif' font-size="10" font-weight="bold" text-anchor="middle" fill="#000" stroke="#000" stroke-width="0.25">IL-6 mRNA Percent Induction</text>
<text x="368.2" y="399.7" font-family='"Liberation Serif", serif' font-size="17.2" font-weight="bold" text-anchor="middle" fill="#000" stroke="#000" stroke-width="0.25" >IL-6</text>
<rect x="311.40" y="471.50" width="4.20" height="45.00" fill="#fff" stroke="#606060" stroke-width="1"/>
<rect x="317.90" y="471.50" width="4.20" height="45.00" fill="#000" stroke="#000" stroke-width="1"/>
<rect x="324.40" y="471.50" width="4.20" height="45.00" fill="#bdbdbd" stroke="#606060" stroke-width="1"/>
<line x1="342.7" y1="483.7" x2="342.7" y2="489" stroke="#555" stroke-width="1" />
<line x1="341.2" y1="483.7" x2="344.2" y2="483.7" stroke="#555" stroke-width="1" />
<rect x="340.60" y="489.00" width="4.20" height="27.50" fill="#fff" stroke="#606060" stroke-width="1"/>
<line x1="349.2" y1="480.2" x2="349.2" y2="485" stroke="#555" stroke-width="1" />
<line x1="347.7" y1="480.2" x2="350.7" y2="480.2" stroke="#555" stroke-width="1" />
<rect x="347.10" y="485.00" width="4.20" height="31.50" fill="#000" stroke="#000" stroke-width="1"/>
<line x1="355.7" y1="430.6" x2="355.7" y2="435.7" stroke="#555" stroke-width="1" />
<line x1="354.2" y1="430.6" x2="357.2" y2="430.6" stroke="#555" stroke-width="1" />
<rect x="353.60" y="435.70" width="4.20" height="80.80" fill="#bdbdbd" stroke="#606060" stroke-width="1"/>
<line x1="372.3" y1="482.9" x2="372.3" y2="485" stroke="#555" stroke-width="1" />
<line x1="370.8" y1="482.9" x2="373.8" y2="482.9" stroke="#555" stroke-width="1" />
<rect x="370.20" y="485.00" width="4.20" height="31.50" fill="#fff" stroke="#606060" stroke-width="1"/>
<line x1="378.8" y1="473.7" x2="378.8" y2="478.3" stroke="#555" stroke-width="1" />
<line x1="377.3" y1="473.7" x2="380.3" y2="473.7" stroke="#555" stroke-width="1" />
<rect x="376.70" y="478.30" width="4.20" height="38.20" fill="#000" stroke="#000" stroke-width="1"/>
<line x1="385.3" y1="437.9" x2="385.3" y2="442.5" stroke="#555" stroke-width="1" />
<line x1="383.8" y1="437.9" x2="386.8" y2="437.9" stroke="#555" stroke-width="1" />
<rect x="383.20" y="442.50" width="4.20" height="74.00" fill="#bdbdbd" stroke="#606060" stroke-width="1"/>
<line x1="401.8" y1="477" x2="401.8" y2="486.4" stroke="#555" stroke-width="1" />
<line x1="400.3" y1="477" x2="403.3" y2="477" stroke="#555" stroke-width="1" />
<rect x="399.70" y="486.40" width="4.20" height="30.10" fill="#fff" stroke="#606060" stroke-width="1"/>
<line x1="408.3" y1="482.3" x2="408.3" y2="485" stroke="#555" stroke-width="1" />
<line x1="406.8" y1="482.3" x2="409.8" y2="482.3" stroke="#555" stroke-width="1" />
<rect x="406.20" y="485.00" width="4.20" height="31.50" fill="#000" stroke="#000" stroke-width="1"/>
<line x1="414.8" y1="432.5" x2="414.8" y2="438.7" stroke="#555" stroke-width="1" />
<line x1="413.3" y1="432.5" x2="416.3" y2="432.5" stroke="#555" stroke-width="1" />
<rect x="412.70" y="438.70" width="4.20" height="77.80" fill="#bdbdbd" stroke="#606060" stroke-width="1"/>
<line x1="431.0" y1="489" x2="431.0" y2="491.2" stroke="#555" stroke-width="1" />
<line x1="429.5" y1="489" x2="432.5" y2="489" stroke="#555" stroke-width="1" />
<rect x="428.90" y="491.20" width="4.20" height="25.30" fill="#fff" stroke="#606060" stroke-width="1"/>
<line x1="437.5" y1="469.7" x2="437.5" y2="477.7" stroke="#555" stroke-width="1" />
<line x1="436.0" y1="469.7" x2="439.0" y2="469.7" stroke="#555" stroke-width="1" />
<rect x="435.40" y="477.70" width="4.20" height="38.80" fill="#000" stroke="#000" stroke-width="1"/>
<line x1="444.0" y1="433.3" x2="444.0" y2="439.8" stroke="#555" stroke-width="1" />
<line x1="442.5" y1="433.3" x2="445.5" y2="433.3" stroke="#555" stroke-width="1" />
<rect x="441.90" y="439.80" width="4.20" height="76.70" fill="#bdbdbd" stroke="#606060" stroke-width="1"/>
<text x="352.9" y="428.7" font-family='"Liberation Serif", serif' font-size="16.5" font-weight="normal" text-anchor="middle" fill="#000" stroke="#000" stroke-width="0.15" >*</text>
<text x="382" y="436.2" font-family='"Liberation Serif", serif' font-size="16.5" font-weight="normal" text-anchor="middle" fill="#000" stroke="#000" stroke-width="0.15" >**</text>
<text x="412.8" y="428.2" font-family='"Liberation Serif", serif' font-size="16.5" font-weight="normal" text-anchor="middle" fill="#000" stroke="#000" stroke-width="0.15" >*</text>
<text x="439.2" y="428.2" font-family='"Liberation Serif", serif' font-size="16.5" font-weight="normal" text-anchor="middle" fill="#000" stroke="#000" stroke-width="0.15" >*</text>
<line x1="336.8" y1="520.8" x2="336.8" y2="554.2" stroke="#777" stroke-width="1" />
<line x1="366.4" y1="520.8" x2="366.4" y2="554.2" stroke="#333" stroke-width="1" />
<line x1="396.3" y1="520.8" x2="396.3" y2="554.2" stroke="#777" stroke-width="1" />
<line x1="425.2" y1="520.8" x2="425.2" y2="554.2" stroke="#777" stroke-width="1" />
<line x1="455.4" y1="520.8" x2="455.4" y2="554.2" stroke="#999" stroke-width="1" />
<text x="322.1" y="529.7" font-family='"Liberation Serif", serif' font-size="10" font-weight="normal" text-anchor="middle" fill="#000" stroke="#000" stroke-width="0.15" >+</text>
<text x="351.5" y="529.7" font-family='"Liberation Serif", serif' font-size="10" font-weight="normal" text-anchor="middle" fill="#000" stroke="#000" stroke-width="0.15" >+</text>
<text x="381.1" y="529.7" font-family='"Liberation Serif", serif' font-size="10" font-weight="normal" text-anchor="middle" fill="#000" stroke="#000" stroke-width="0.15" >+</text>
<text x="410.4" y="529.7" font-family='"Liberation Serif", serif' font-size="10" font-weight="normal" text-anchor="middle" fill="#000" stroke="#000" stroke-width="0.15" >+</text>
<text x="440.6" y="529.7" font-family='"Liberation Serif", serif' font-size="10" font-weight="normal" text-anchor="middle" fill="#000" stroke="#000" stroke-width="0.15" >+</text>
<text x="322.1" y="540.6" font-family='"Liberation Serif", serif' font-size="10" font-weight="normal" text-anchor="middle" fill="#000" stroke="#000" stroke-width="0.15" >0</text>
<text x="351.5" y="540.6" font-family='"Liberation Serif", serif' font-size="10" font-weight="normal" text-anchor="middle" fill="#000" stroke="#000" stroke-width="0.15" >1</text>
<text x="381.1" y="540.6" font-family='"Liberation Serif", serif' font-size="10" font-weight="normal" text-anchor="middle" fill="#000" stroke="#000" stroke-width="0.15" >1</text>
<text x="410.4" y="540.6" font-family='"Liberation Serif", serif' font-size="10" font-weight="normal" text-anchor="middle" fill="#000" stroke="#000" stroke-width="0.15" >2</text>
<text x="440.6" y="540.6" font-family='"Liberation Serif", serif' font-size="10" font-weight="normal" text-anchor="middle" fill="#000" stroke="#000" stroke-width="0.15" >2</text>
<text x="322.1" y="552.4" font-family='"Liberation Serif", serif' font-size="10" font-weight="normal" text-anchor="middle" fill="#000" stroke="#000" stroke-width="0.15" >-</text>
<text x="351.5" y="552.4" font-family='"Liberation Serif", serif' font-size="10" font-weight="normal" text-anchor="middle" fill="#000" stroke="#000" stroke-width="0.15" >-</text>
<text x="381.1" y="552.4" font-family='"Liberation Serif", serif' font-size="10" font-weight="normal" text-anchor="middle" fill="#000" stroke="#000" stroke-width="0.15" >+</text>
<text x="410.4" y="552.4" font-family='"Liberation Serif", serif' font-size="10" font-weight="normal" text-anchor="middle" fill="#000" stroke="#000" stroke-width="0.15" >-</text>
<text x="440.6" y="552.4" font-family='"Liberation Serif", serif' font-size="10" font-weight="normal" text-anchor="middle" fill="#000" stroke="#000" stroke-width="0.15" >+</text>
<text x="459.9" y="529.7" font-family='"Liberation Serif", serif' font-size="11.3" font-weight="normal" text-anchor="start" fill="#000" stroke="#000" stroke-width="0.15" letter-spacing="0.1">LPS (4hr)</text>
<text x="459.9" y="540.6" font-family='"Liberation Serif", serif' font-size="11.3" font-weight="normal" text-anchor="start" fill="#000" stroke="#000" stroke-width="0.15" letter-spacing="0.1">ActD (hr)</text>
<text x="459.9" y="552.4" font-family='"Liberation Serif", serif' font-size="11.3" font-weight="normal" text-anchor="start" fill="#000" stroke="#000" stroke-width="0.15" letter-spacing="0.1">SB (1μM)</text>
<rect x="468.10" y="387.70" width="13.30" height="7.40" fill="#fff" stroke="#444" stroke-width="1"/>
<rect x="468.10" y="398.50" width="13.30" height="7.00" fill="#000" stroke="#000" stroke-width="1"/>
<rect x="468.10" y="409.40" width="13.30" height="7.50" fill="#bdbdbd" stroke="#444" stroke-width="1"/>
<text x="484.3" y="395" font-family='"Liberation Serif", serif' font-size="10.4" font-weight="bold" text-anchor="start" fill="#000" stroke="#000" stroke-width="0.25" >no virus</text>
<text x="484.3" y="405.7" font-family='"Liberation Serif", serif' font-size="10.4" font-weight="bold" text-anchor="start" fill="#000" stroke="#000" stroke-width="0.25" >Ad0</text>
<text x="484.3" y="416.6" font-family='"Liberation Serif", serif' font-size="10.4" font-weight="bold" text-anchor="start" fill="#000" stroke="#000" stroke-width="0.25" >AdBmx</text>
</svg>
</body></html>
